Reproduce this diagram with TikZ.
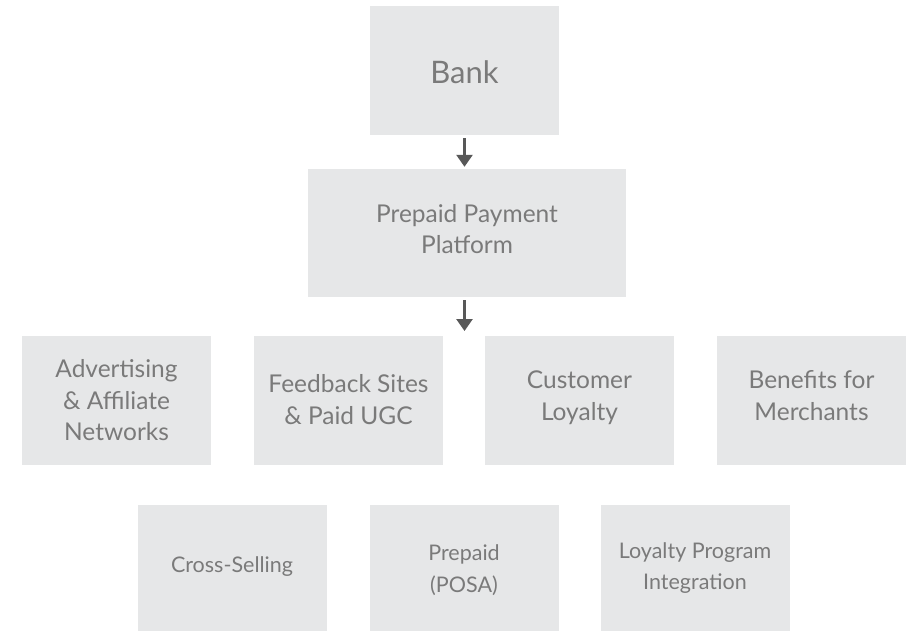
\documentclass[tikz,border=0pt]{standalone}
\usepackage{fontspec}
\setmainfont{Lato}
\usetikzlibrary{arrows.meta}
\definecolor{boxfill}{HTML}{E6E7E8}
\definecolor{txt}{HTML}{7A7A7A}
\definecolor{arr}{HTML}{585858}
\newcommand{\shiftup}[2]{\raisebox{#1}[\height][\depth]{#2}}
\begin{document}
\begin{tikzpicture}[x=1pt,y=-1pt,
  box/.style={fill=boxfill,draw=none,inner sep=0pt,minimum width=189pt,minimum height=129pt,align=center,text=txt},
  big/.style={font=\fontsize{31}{36}\selectfont},
  mid/.style={font=\fontsize{24.5}{31.5}\selectfont},
  small/.style={font=\fontsize{21.5}{31.5}\selectfont},
  conn/.style={draw=arr,line width=2.6pt,-{Triangle[width=16pt,length=12pt]}}]
\useasboundingbox (0,0) rectangle (912,630);
\node[box,big,text depth=0pt] (bank) at (464.5,70.5) {\raisebox{-3pt}{Bank}};
\node[box,mid,minimum width=318pt,minimum height=128pt] (ppp) at (467,233) {\shiftup{4pt}{\parbox{300pt}{\centering Prepaid Payment\\Platform}}};
\node[box,mid] (adv) at (116.5,400.5) {Advertising\\\& Affiliate\\Networks};
\node[box,mid] (fb) at (348.5,400.5) {\shiftup{1pt}{\parbox{180pt}{\centering Feedback Sites\\\& Paid UGC}}};
\node[box,mid] (cl) at (579.5,400.5) {\shiftup{3pt}{\parbox{180pt}{\centering Customer\\Loyalty}}};
\node[box,mid] (bm) at (811.5,400.5) {\shiftup{5pt}{\parbox{180pt}{\centering Benefits for\\Merchants}}};
\node[box,small,minimum height=126pt] (cs) at (232,568) {\raisebox{7pt}{Cross-Selling}};
\node[box,small,minimum height=126pt] (posa) at (464,568) {\shiftup{-2pt}{\parbox{180pt}{\centering Prepaid\\(POSA)}}};
\node[box,small,minimum height=126pt] (lpi) at (695,568) {\parbox{180pt}{\centering Loyalty Program\\Integration}};
\coordinate (split) at (464.5,331);
\draw[conn,shorten <=3pt,shorten >=2pt] (bank.south) -- (bank.south |- ppp.north);
\draw[conn,shorten <=3pt] (bank.south |- ppp.south) -- (split);
\end{tikzpicture}
\end{document}
